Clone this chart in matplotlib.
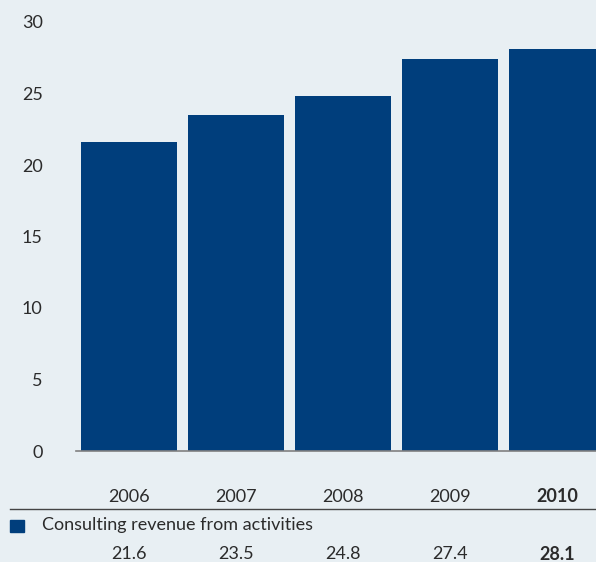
import matplotlib.pyplot as plt
import matplotlib.transforms as mtransforms
from matplotlib.patches import Rectangle
import numpy as np

# data
years = ["2006", "2007", "2008", "2009", "2010"]
revenue = [21.6, 23.5, 24.8, 27.4, 28.1]
value_labels = ["21.6", "23.5", "24.8", "27.4", "28.1"]
yticks = [0, 5, 10, 15, 20, 25, 30]
series_name = "Consulting revenue from activities"

bg = "#e8eff3"
bar_color = "#003e7c"
txt = "#2b2b2b"

plt.rcParams["font.family"] = ["Lato", "DejaVu Sans"]

fig = plt.figure(figsize=(5.96, 5.62), dpi=100, facecolor=bg)
ax = fig.add_axes([76 / 596, 111 / 562, 520 / 596, 429 / 562])
ax.set_facecolor(bg)

x = np.arange(len(years))
ax.bar(x, revenue, width=0.9, color=bar_color, zorder=2)

ax.set_xlim(-0.495, 4.364)
ax.set_ylim(0, 30)
ax.set_yticks(yticks)
ax.set_yticklabels([str(t) for t in yticks], fontsize=13, color=txt)
ax.tick_params(axis="y", length=0, pad=24)
ax.set_xticks([])
for s in ["top", "right", "left"]:
    ax.spines[s].set_visible(False)
ax.spines["bottom"].set_color("#808080")
ax.spines["bottom"].set_linewidth(1.2)

# table under the chart
trans = mtransforms.blended_transform_factory(ax.transData, fig.transFigure)
for i, (yr, v) in enumerate(zip(years, value_labels)):
    w = "bold" if i == len(years) - 1 else "normal"
    ax.text(i, 1 - 497 / 562, yr, transform=trans, ha="center", va="center",
            fontsize=13, color=txt, fontweight=w, clip_on=False)
    ax.text(i, 1 - 554 / 562, v, transform=trans, ha="center", va="center",
            fontsize=13, color=txt, fontweight=w, clip_on=False)

fig.add_artist(plt.Line2D([10 / 596, 1], [1 - 509 / 562] * 2,
                          transform=fig.transFigure, color="#444444", lw=1))
fig.add_artist(Rectangle((10 / 596, 1 - 532 / 562), 14 / 596, 12 / 562,
                         transform=fig.transFigure, color=bar_color))
fig.text(42 / 596, 1 - 525 / 562, series_name, ha="left", va="center",
         fontsize=13, color=txt)

fig.savefig("out.png", dpi=100, facecolor=bg)
